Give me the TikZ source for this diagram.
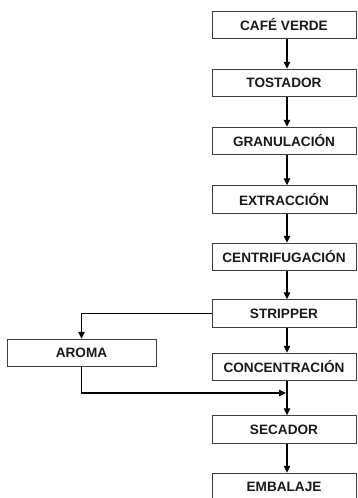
\documentclass[tikz,border=0pt]{standalone}
\usepackage{fontspec}
\setmainfont{Liberation Sans}
\usetikzlibrary{arrows.meta}
\begin{document}
\begin{tikzpicture}[x=1pt,y=-1pt,
  box/.style={draw=black!75, line width=1pt, minimum height=27.5pt, inner sep=0pt,
    font=\fontsize{13.6}{16}\selectfont\bfseries, text=black!90},
  mainbox/.style={box, minimum width=144pt},
  arr/.style={draw=black, line width=1.3pt, -{Triangle[width=6.5pt,length=7pt]}}]
\useasboundingbox (0,0) rectangle (357,498);
\clip (0,0) rectangle (357,498);
\coordinate (ax) at (287,0);
\node[mainbox] (cafe)  at (284,25)    {CAFÉ VERDE};
\node[mainbox] (tost)  at (284,83)    {TOSTADOR};
\node[mainbox] (gran)  at (284,141)   {GRANULACIÓN};
\node[mainbox] (extr)  at (284,199.5) {EXTRACCIÓN};
\node[mainbox] (cent)  at (284,257)   {CENTRIFUGACIÓN};
\node[mainbox] (strip) at (284,313.5) {STRIPPER};
\node[mainbox] (conc)  at (284,367)   {CONCENTRACIÓN};
\node[mainbox] (sec)   at (284,429.5) {SECADOR};
\node[mainbox] (emb)   at (284,487)   {EMBALAJE};
\node[box, minimum width=149pt] (aroma) at (81.5,353) {AROMA};
\coordinate (merge) at (287,393);
\draw[arr] (cafe.south -| ax) -- (tost.north -| ax);
\draw[arr] (tost.south -| ax) -- (gran.north -| ax);
\draw[arr] (gran.south -| ax) -- (extr.north -| ax);
\draw[arr] (extr.south -| ax) -- (cent.north -| ax);
\draw[arr] (cent.south -| ax) -- (strip.north -| ax);
\draw[arr] (strip.south -| ax) -- (conc.north -| ax);
\draw[arr] (conc.south -| ax) -- (sec.north -| ax);
\draw[arr] (sec.south -| ax) -- (emb.north -| ax);
\draw[arr] (strip.west) -| (aroma.north);
\draw[arr, shorten >=1pt] (aroma.south) |- (merge);
\end{tikzpicture}
\end{document}
